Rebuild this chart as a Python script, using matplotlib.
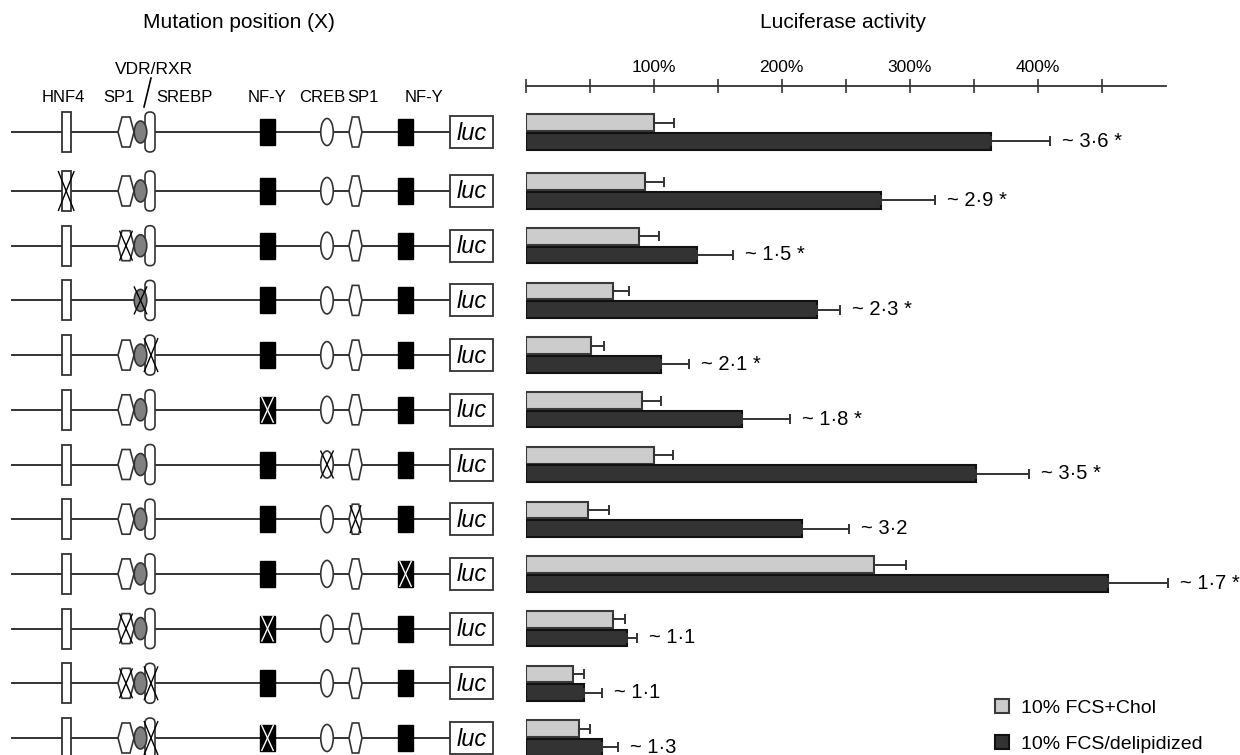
import matplotlib
matplotlib.use('Agg')
import matplotlib.pyplot as plt
from matplotlib.patches import Rectangle, Ellipse, Polygon, FancyBboxPatch
import numpy as np

plt.rcParams['font.family'] = ['Liberation Sans', 'DejaVu Sans']

# ---------------- data ----------------
element_names = ['HNF4', 'SP1', 'SREBP', 'NF-Y', 'CREB', 'SP1', 'NF-Y']
upper_label = 'VDR/RXR'
# mutated (crossed) elements of each construct, top to bottom
construct_mutations = [
    [], ['HNF4'], ['SP1a'], ['VDR'], ['SREBP'], ['NFYa'], ['CREB'], ['SP1b'],
    ['NFYb'], ['SP1a', 'NFYa'], ['SP1a', 'SREBP'], ['SREBP', 'NFYa'],
]
# elements missing from a construct
construct_deleted = [[], [], [], ['SP1a'], [], [], [], [], [], [], [], []]

series_names = ['10% FCS+Chol', '10% FCS/delipidized']
chol_mean = [100, 93, 89, 68, 51, 91, 100, 49, 272, 68, 37, 42]
chol_err = [16, 15, 15, 13, 10, 15, 15, 16, 25, 10, 9, 8]
delip_mean = [364, 278, 134, 228, 106, 169, 352, 216, 455, 79, 46, 60]
delip_err = [46, 42, 28, 18, 22, 38, 41, 37, 47, 8, 14, 12]
fold_labels = ['~ 3·6 *', '~ 2·9 *', '~ 1·5 *', '~ 2·3 *', '~ 2·1 *', '~ 1·8 *',
               '~ 3·5 *', '~ 3·2', '~ 1·7 *', '~ 1·1', '~ 1·1', '~ 1·3']
tick_values = [0, 50, 100, 150, 200, 250, 300, 350, 400, 450]
tick_labels = ['', '', '100%', '', '200%', '', '300%', '', '400%', '']

# ---------------- layout ----------------
W, H = 1240, 755
ROW0, ROW1, STEP = 132, 191, 54.7
n = len(chol_mean)
row_px = np.array([ROW0] + [ROW1 + STEP * (i - 1) for i in range(1, n)])

fig = plt.figure(figsize=(W / 100, H / 100), dpi=100)
ax0 = fig.add_axes([0, 0, 1, 1])
ax0.set_xlim(0, W)
ax0.set_ylim(H, 0)
ax0.axis('off')

EDGE = '#333333'

def cross(cx, cy, w, h, color='black', lw=1.0):
    ax0.plot([cx - w / 2, cx + w / 2], [cy - h / 2, cy + h / 2], color=color, lw=lw, zorder=6,
             solid_capstyle='butt')
    ax0.plot([cx - w / 2, cx + w / 2], [cy + h / 2, cy - h / 2], color=color, lw=lw, zorder=6,
             solid_capstyle='butt')

def hexagon(cx, cy, w, h):
    pts = [(cx - w / 2, cy), (cx - w / 4, cy - h / 2), (cx + w / 4, cy - h / 2),
           (cx + w / 2, cy), (cx + w / 4, cy + h / 2), (cx - w / 4, cy + h / 2)]
    ax0.add_patch(Polygon(pts, closed=True, fc='white', ec=EDGE, lw=1.2, zorder=3))

def draw_construct(y, muts, dels):
    ax0.plot([12, 450], [y, y], color=EDGE, lw=1.4, zorder=1)
    # HNF4
    ax0.add_patch(Rectangle((61.7, y - 20), 9, 40, fc='white', ec=EDGE, lw=1.3, zorder=3))
    if 'HNF4' in muts:
        cross(66.2, y, 16, 40)
    # SP1 (a)
    if 'SP1a' not in dels:
        hexagon(126, y, 16, 30)
        if 'SP1a' in muts:
            cross(126, y, 13, 30)
    # SREBP
    ax0.add_patch(FancyBboxPatch((145, y - 20), 10, 40,
                                 boxstyle='round,pad=0,rounding_size=5',
                                 fc='white', ec=EDGE, lw=1.2, zorder=3))
    # VDR/RXR
    ax0.add_patch(Ellipse((140.5, y), 12.5, 22, fc='#808080', ec=EDGE, lw=1.2, zorder=4))
    if 'VDR' in muts:
        cross(140.5, y, 13, 28)
    if 'SREBP' in muts:
        cross(151, y, 14, 34)
    # NF-Y (a)
    ax0.add_patch(Rectangle((260, y - 13), 15, 26, fc='black', ec='black', lw=1, zorder=3))
    if 'NFYa' in muts:
        cross(267.5, y, 12, 26, color='white')
    # CREB
    ax0.add_patch(Ellipse((327, y), 12.5, 27, fc='white', ec=EDGE, lw=1.2, zorder=3))
    if 'CREB' in muts:
        cross(327, y, 13, 28)
    # SP1 (b)
    hexagon(355.5, y, 13, 30)
    if 'SP1b' in muts:
        cross(355.5, y, 11, 28)
    # NF-Y (b)
    ax0.add_patch(Rectangle((398, y - 13), 15, 26, fc='black', ec='black', lw=1, zorder=3))
    if 'NFYb' in muts:
        cross(405.5, y, 12, 26, color='white')
    # luc
    ax0.add_patch(Rectangle((450, y - 16), 43, 32, fc='white', ec=EDGE, lw=1.3, zorder=3))
    ax0.text(471.5, y + 1, 'luc', style='italic', fontsize=17, ha='center', va='center',
             zorder=4)

for i in range(n):
    draw_construct(row_px[i], construct_mutations[i], construct_deleted[i])

# headers and element labels
ax0.text(238.5, 22.7, 'Mutation position (X)', ha='center', va='center', fontsize=15)
ax0.text(843, 22.7, 'Luciferase activity', ha='center', va='center', fontsize=15)
label_x = [63.8, 118.5, 184, 267, 322, 362.5, 424]
for name, lx in zip(element_names, label_x):
    ax0.text(lx, 97.3, name, ha='center', va='center', fontsize=12)
ax0.text(154, 70, upper_label, ha='center', va='center', fontsize=12.5)
ax0.plot([144, 151], [107, 78], color='black', lw=1.2)

# ---------------- bar chart ----------------
X0, PXP, XMAX = 525.5, 1.28, 560
AX_TOP = 86
ax = fig.add_axes([X0 / W, 0, XMAX * PXP / W, (H - AX_TOP) / H])
ax.set_xlim(0, XMAX)
ax.set_ylim(H, AX_TOP)
ax.patch.set_alpha(0)
for s in ['left', 'right', 'bottom']:
    ax.spines[s].set_visible(False)
ax.spines['top'].set_bounds(0, 500)
ax.spines['top'].set_color(EDGE)
ax.spines['top'].set_linewidth(1.3)
ax.xaxis.tick_top()
ax.set_xticks(tick_values, tick_labels)
ax.tick_params(axis='x', direction='inout', length=10, width=1.2, color=EDGE, pad=3,
               labelsize=12.5)
ax.set_yticks([])

BH, OFF = 16.7, 9.3
zeros = np.zeros(n)
b1 = ax.barh(row_px - OFF, chol_mean, height=BH, color='#cccccc', edgecolor='#3a3a3a',
             linewidth=1.5, xerr=[zeros, chol_err],
             error_kw=dict(ecolor=EDGE, elinewidth=1.4, capsize=3.6, capthick=1.4),
             label=series_names[0])
b2 = ax.barh(row_px + OFF, delip_mean, height=BH, color='#333333', edgecolor='#111111',
             linewidth=1.5, xerr=[zeros, delip_err],
             error_kw=dict(ecolor=EDGE, elinewidth=1.4, capsize=3.6, capthick=1.4),
             label=series_names[1])
for i in range(n):
    ax.annotate(fold_labels[i], xy=(delip_mean[i] + delip_err[i], row_px[i] + OFF),
                xytext=(12, 0), textcoords='offset pixels', ha='left', va='center',
                fontsize=14.5, annotation_clip=False)

fig.legend(handles=[b1, b2], labels=series_names, loc='center left',
           bbox_to_anchor=(995 / W, 1 - 726 / H), frameon=False, fontsize=14,
           handlelength=0.7, handleheight=0.7, handletextpad=0.65, labelspacing=0.95,
           borderpad=0, borderaxespad=0)

fig.savefig('out.png', dpi=100)
